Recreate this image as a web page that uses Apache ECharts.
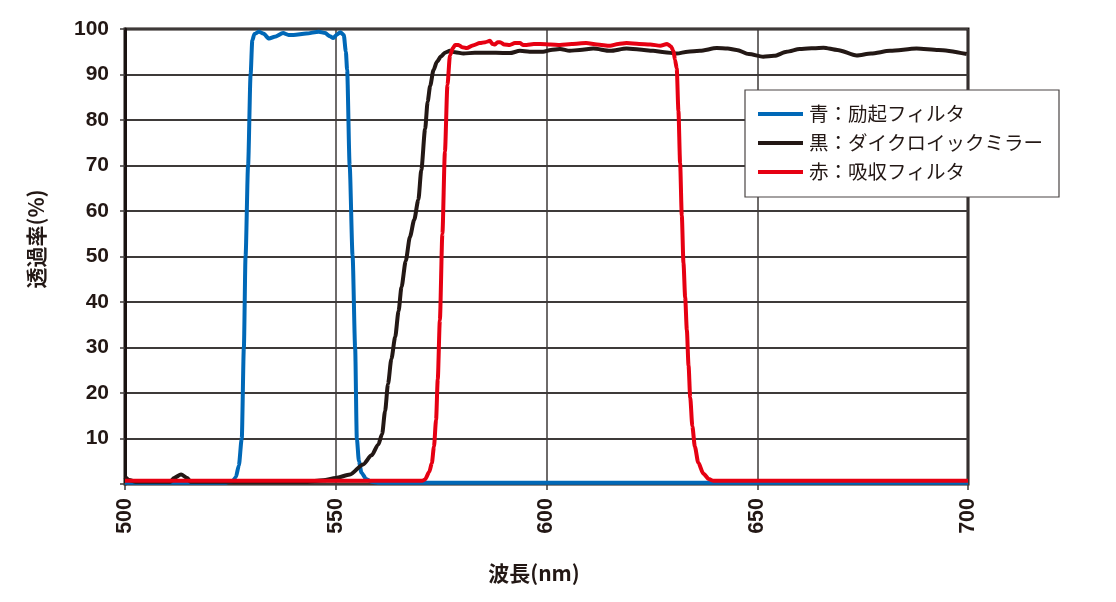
<!DOCTYPE html>
<html>
<head>
<meta charset="utf-8">
<script src="https://cdn.jsdelivr.net/npm/echarts@6/dist/echarts.min.js"></script>
<style>
html,body{margin:0;padding:0;background:#fff;}
#chart{width:1116px;height:602px;}
</style>
</head>
<body>
<div id="chart"></div>
<script>
// ---- data ----
const seriesNames = ['青：励起フィルタ', '黒：ダイクロイックミラー', '赤：吸収フィルタ'];
const xTicks = [500, 550, 600, 650, 700];
const yTicks = [10, 20, 30, 40, 50, 60, 70, 80, 90, 100];

const blueData = [
  [500,0.3],[524,0.3],[525.5,0.6],[526.3,1.5],[527,4],[527.7,10],[528.2,30],[528.6,50],[529.2,70],
  [529.8,90],[530.2,97.5],[530.7,98.9],[531.8,99.4],[532.8,99],[534.2,97.9],[535.5,98.3],[537.5,99.1],
  [538.8,98.7],[540,98.7],[543,99],[546,99.4],[547.5,99.1],[548.6,98.4],[549.4,98],[550.3,98.8],
  [551.1,99.3],[551.9,98.7],[552.4,95],[552.7,91],[553.3,70],[554,50],[554.6,30],[555,10],[555.5,5],
  [556.1,2.5],[557.2,1.1],[558.5,0.5],[560,0.3],[700,0.3]
];
const blackData = [
  [500,1.6],[501,0.9],[502.5,0.5],[510.8,0.5],[511.6,1.3],[513.3,2.1],[514.8,1.3],[515.5,0.5],
  [543,0.5],[547,0.8],[550,1.3],[553.4,2.1],[556.5,4.3],[558.5,6.3],[560.1,8.7],[561,11],[561.7,16],
  [562.4,22],[563.2,27.5],[564.1,32.3],[564.9,38],[565.6,43.3],[566.6,49],[567.6,54.3],[568.6,58],
  [569.6,62.5],[570.3,69],[571.2,78],[571.8,84],[572.4,87.5],[573.2,91],[574,92.8],[575,94],[575.9,94.8],
  [577.1,95.2],[578.3,94.9],[580.3,94.6],[583,94.8],[585.8,94.8],[588,94.8],[591.3,94.7],[593.7,95.2],
  [596,95],[599.2,95],[601,95.4],[603.2,95.6],[605.5,95.2],[607.9,95.4],[611.1,95.7],[615.1,95.2],
  [619,95.7],[622,95.5],[625.3,95.2],[628,94.9],[630.9,94.6],[633.5,95],[636.4,95.2],[640.4,95.8],
  [643,95.7],[645.1,95.4],[648,94.5],[651.4,93.9],[654,94.1],[657,95],[660.1,95.6],[665.7,95.9],
  [669,95.4],[673.6,94.2],[677,94.6],[681.5,95.2],[687.8,95.7],[693,95.4],[699.7,94.5]
];
const redData = [
  [500,0.7],[570.5,0.7],[571.2,1],[572.2,2.7],[572.8,4.6],[573.3,8.2],[573.8,14.1],[574.2,23],[574.7,36],
  [575.3,55],[575.9,73],[576.5,87.7],[577.1,94.2],[577.8,95.8],[578.3,96.5],[579.1,96.5],[580,96],
  [581.1,95.8],[582.5,96.4],[584.2,96.9],[585.5,97.1],[586.6,97.4],[587.2,96.7],[587.8,96.6],[588.4,97.1],
  [589,97.1],[590,96.6],[591.3,96.5],[592.5,96.9],[593.7,96.9],[594.5,96.5],[595.3,96.5],[597,96.7],
  [598.5,96.7],[601,96.6],[603.2,96.5],[606,96.7],[609.4,96.9],[612,96.6],[615.1,96.3],[617,96.7],
  [619,96.9],[622,96.7],[624.6,96.6],[627,96.3],[628.6,96.7],[629.5,96.2],[630.1,95.2],[630.5,93.2],
  [630.9,91.3],[631.3,82],[631.7,70.5],[632.1,59],[632.5,48.5],[632.9,41],[633.3,33.8],[633.7,26],
  [634.1,19],[634.6,12.7],[635.2,8.2],[636,4.7],[637.2,2.3],[638.5,1.1],[639.6,0.7],[700,0.7]
];

const gridColor = '#3e3a39';
const textColor = '#231815';
const tickFont = '"Liberation Sans", Arial, sans-serif';
const cjkFont = '"Noto Sans CJK JP", sans-serif';

const chart = echarts.init(document.getElementById('chart'), null, {renderer: 'canvas'});
chart.setOption({
  animation: false,
  backgroundColor: '#fff',
  grid: {left: 125, right: 148, top: 29, bottom: 118, show: true, borderColor: '#1a1311', borderWidth: 3, backgroundColor: 'transparent'},
  legend: {
    data: seriesNames,
    left: 745, top: 90,
    orient: 'vertical',
    padding: [14, 16, 15, 13],
    itemGap: 9,
    itemWidth: 45, itemHeight: 4,
    icon: 'rect',
    backgroundColor: '#fff',
    borderColor: '#4a4544', borderWidth: 1.2, borderRadius: 0,
    textStyle: {fontFamily: cjkFont, fontSize: 19.5, color: textColor, lineHeight: 20, padding: [0,0,0,1]}
  },
  xAxis: {
    type: 'value', min: xTicks[0], max: xTicks[xTicks.length-1], interval: 50,
    axisLine: {show: true, onZero: false, lineStyle: {color: gridColor, width: 2}},
    axisTick: {show: true, length: 6, lineStyle: {color: gridColor, width: 1.5}},
    axisLabel: {rotate: 90, margin: 14, fontFamily: tickFont, fontWeight: 'bold', fontSize: 21.5, color: textColor},
    splitLine: {show: true, lineStyle: {color: gridColor, width: 1.5}}
  },
  yAxis: {
    type: 'value', min: 0, max: 100, interval: 10,
    axisLine: {show: true, lineStyle: {color: '#1a1311', width: 3}},
    axisTick: {show: true, length: 5, lineStyle: {color: gridColor, width: 1.5}},
    axisLabel: {margin: 16, fontFamily: tickFont, fontWeight: 'bold', fontSize: 21, color: textColor,
      formatter: v => (yTicks.indexOf(v) >= 0 ? String(v) : '')},
    splitLine: {show: true, lineStyle: {color: gridColor, width: 1.8}}
  },
  graphic: [
    {type: 'text', x: 534, y: 573, style: {text: '波長(nm)', font: 'bold 21px "Noto Sans CJK JP", sans-serif', fill: textColor, align: 'center', verticalAlign: 'middle'}, z: 10},
    {type: 'text', x: 36.5, y: 239, rotation: Math.PI/2, style: {text: '透過率(%)', font: 'bold 21px "Noto Sans CJK JP", sans-serif', fill: textColor, align: 'center', verticalAlign: 'middle'}, z: 10}
  ],
  series: [
    {name: seriesNames[0], type: 'line', data: blueData, showSymbol: false, smooth: 0.25, smoothMonotone: 'x', color: '#0068b7', lineStyle: {width: 4, color: '#0068b7'}, z: 3},
    {name: seriesNames[1], type: 'line', data: blackData, showSymbol: false, smooth: 0.25, smoothMonotone: 'x', color: '#231815', lineStyle: {width: 4, color: '#231815'}, z: 4},
    {name: seriesNames[2], type: 'line', data: redData, showSymbol: false, smooth: 0.25, smoothMonotone: 'x', color: '#e60012', lineStyle: {width: 4, color: '#e60012'}, z: 5}
  ]
});
</script>
</body>
</html>
